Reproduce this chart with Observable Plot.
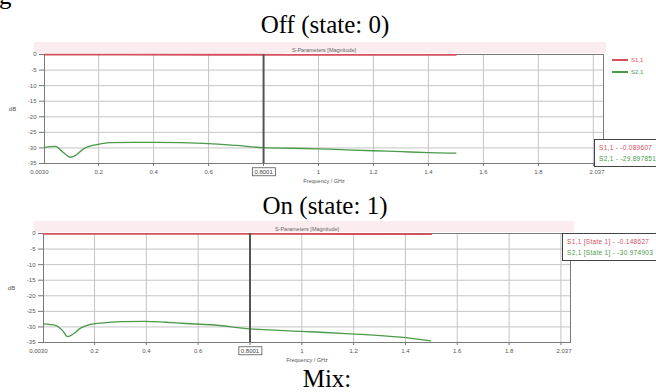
<!DOCTYPE html>
<html>
<head>
<meta charset="utf-8">
<script src="https://cdn.jsdelivr.net/npm/d3@7"></script>
<script src="https://cdn.jsdelivr.net/npm/@observablehq/plot@0.6"></script>
<style>
  html, body { margin: 0; padding: 0; background: #fff; }
  body { width: 656px; height: 392px; overflow: hidden; position: relative; font-family: "Liberation Serif", "Times New Roman", serif; }
  .cap { position: absolute; font-size: 25px; line-height: 25px; color: #000; white-space: nowrap; }
  .band { position: absolute; background: #fbecef; }
  .legend { position: absolute; font: 6px "Liberation Sans", Arial, sans-serif; }
  .legend div { height: 12px; display: flex; align-items: center; }
  .legend span.l { display: inline-block; width: 16px; height: 1.5px; margin-right: 3px; }
  .readout { position: absolute; background: #fff; border: 1px solid #444; font: 6.5px "Liberation Sans", Arial, sans-serif; padding: 2px 4px; white-space: nowrap; letter-spacing: 0.3px; }
  .readout div { height: 11px; line-height: 11px; }
  .plotwrap { position: absolute; left: 0; }
</style>
</head>
<body>
<script>
// ---------- data ----------
const captions = ["Off (state: 0)", "On (state: 1)", "Mix:"];
const plotTitle = "S-Parameters [Magnitude]";
const xAxisLabel = "Frequency / GHz";
const yAxisLabel = "dB";
const seriesNames = ["S1,1", "S2,1"];
const seriesColors = ["#d4505c", "#4a9a48"];

const xDomain = [0.003, 2.037];
const yDomain = [-35, 0];
const yTicks = [0, -5, -10, -15, -20, -25, -30, -35];
const xGridTicks = [0.2, 0.4, 0.6, 0.8, 1.0, 1.2, 1.4, 1.6, 1.8, 2.0];
const xLabelTicks = [0.2, 0.4, 0.6, 1.0, 1.2, 1.4, 1.6, 1.8];
const xStartLabel = "0.0030";
const xEndLabel = "2.037";
const markerFreq = 0.8001;
const markerLabel = "0.8001";

// Off state (state 0)
const offS11Freq = [0.003, 0.3, 0.6, 0.9, 1.2, 1.5];
const offS11dB   = [-0.06, -0.07, -0.08, -0.09, -0.10, -0.11];
const offS21Freq = [0.003, 0.043, 0.068, 0.098, 0.116, 0.145, 0.178, 0.207, 0.243, 0.33, 0.4, 0.5, 0.6, 0.7, 0.8, 0.9, 1.0, 1.1, 1.2, 1.3, 1.4, 1.5];
const offS21dB   = [-29.8, -29.5, -31.2, -33.0, -32.4, -30.3, -29.2, -28.7, -28.3, -28.2, -28.2, -28.3, -28.6, -29.2, -29.9, -30.1, -30.3, -30.6, -30.9, -31.2, -31.5, -31.7];
const offReadout = ["S1,1  -  -0.089607", "S2,1  -  -29.897851"];

// On state (state 1)
const onS11Freq = [0.003, 0.3, 0.6, 0.9, 1.2, 1.5];
const onS11dB   = [-0.12, -0.13, -0.14, -0.15, -0.16, -0.17];
const onS21Freq = [0.003, 0.049, 0.076, 0.096, 0.119, 0.146, 0.184, 0.223, 0.30, 0.397, 0.474, 0.551, 0.648, 0.8, 0.995, 1.188, 1.381, 1.497];
const onS21dB   = [-29.0, -29.5, -31.1, -33.1, -32.2, -30.4, -29.2, -28.8, -28.3, -28.2, -28.5, -28.9, -29.3, -30.6, -31.4, -32.2, -33.3, -34.5];
const onReadout = ["S1,1 [State 1]  -  -0.148627", "S2,1 [State 1]  -  -30.974903"];

// ---------- drawing ----------
function toRows(fs, vs, name) { return fs.map((f, i) => ({f, v: vs[i], name})); }

function drawPlot(opts) {
  const s11 = toRows(opts.s11f, opts.s11v, seriesNames[0]);
  const s21 = toRows(opts.s21f, opts.s21v, seriesNames[1]);
  const fmt = d => !xLabelTicks.includes(d) ? "" : (d === 1 ? "1" : d.toFixed(1));
  const svg = Plot.plot({
    width: 656,
    height: opts.height,
    marginLeft: opts.ml, marginRight: opts.mr, marginTop: opts.mt, marginBottom: opts.mb,
    style: {background: "transparent", overflow: "visible", fontFamily: "Liberation Sans, Arial, sans-serif"},
    x: {domain: xDomain},
    y: {domain: yDomain},
    marks: [
      Plot.gridY(yTicks, {stroke: "#c4c4c4", strokeOpacity: 1}),
      Plot.gridX(xGridTicks, {stroke: "#c4c4c4", strokeOpacity: 1}),
      Plot.frame({stroke: "#7a7a7a"}),
      Plot.axisY(yTicks, {tickSize: 5, tickPadding: 3, fontSize: 6, fill: "#555", stroke: "#777", tickFormat: d => String(d), label: null}),
      Plot.axisX(xGridTicks, {tickSize: 3, tickPadding: 3, fontSize: 6, fill: "#555", stroke: "#777", tickFormat: fmt, label: null}),
      Plot.text([xStartLabel], {x: xDomain[0], frameAnchor: "bottom", lineAnchor: "top", dy: 6, dx: 4, textAnchor: "end", fontSize: 6, fill: "#555"}),
      Plot.text([xEndLabel], {x: xDomain[1], frameAnchor: "bottom", lineAnchor: "top", dy: 6, dx: 1, textAnchor: "end", fontSize: 6, fill: "#555"}),
      Plot.text([xAxisLabel], {frameAnchor: "bottom", lineAnchor: "top", dy: 16, fontSize: 5.5, fill: "#555"}),
      Plot.text([yAxisLabel], {frameAnchor: "left", dx: -32, textAnchor: "middle", fontSize: 6, fill: "#555"}),
      Plot.text([plotTitle], {frameAnchor: "top", dy: -6, fontSize: 5.5, fill: "#666"}),
      Plot.line(s21, {x: "f", y: "v", stroke: seriesColors[1], strokeWidth: 1.3, curve: "monotone-x"}),
      Plot.line(s11, {x: "f", y: "v", stroke: seriesColors[0], strokeWidth: 1.8}),
      Plot.ruleX([markerFreq], {stroke: "#555", strokeWidth: 2}),
      Plot.text([markerLabel], {x: markerFreq, frameAnchor: "bottom", lineAnchor: "top", dy: 6, fontSize: 6, fill: "#444"})
    ]
  });
  const wrap = document.createElement("div");
  wrap.className = "plotwrap";
  wrap.style.top = opts.top + "px";
  wrap.appendChild(svg);
  document.body.appendChild(wrap);
  // box around the marker label
  d3.select(svg).selectAll("text").filter(function() { return this.textContent === markerLabel; }).each(function() {
    const b = this.getBBox();
    const r = d3.select(this.parentNode).insert("rect", () => this)
      .attr("x", b.x - 2).attr("y", b.y - 1).attr("width", b.width + 4).attr("height", b.height + 2)
      .attr("fill", "#fff").attr("stroke", "#555").attr("stroke-width", 0.8);
    const tr = this.getAttribute("transform");
    if (tr) r.attr("transform", tr);
  });
  return svg;
}

function addDiv(cls, html, style) {
  const d = document.createElement("div");
  d.className = cls;
  d.innerHTML = html;
  Object.assign(d.style, style);
  document.body.appendChild(d);
  return d;
}

// partial cut-off text at top-left
addDiv("cap", "g", {left: "-1px", top: "-17px"});

// captions
addDiv("cap", captions[0], {left: "0px", width: "650px", textAlign: "center", top: "12px"});
addDiv("cap", captions[1], {left: "0px", width: "650px", textAlign: "center", top: "193px"});
addDiv("cap", captions[2], {left: "0px", width: "654px", textAlign: "center", top: "366px"});

// title bands
addDiv("band", "", {left: "34px", top: "42px", width: "572px", height: "11px"});
addDiv("band", "", {left: "34px", top: "221px", width: "540px", height: "11px"});

drawPlot({top: 40, height: 150, ml: 44, mr: 53, mt: 14, mb: 27,
  s11f: offS11Freq, s11v: offS11dB, s21f: offS21Freq, s21v: offS21dB});
drawPlot({top: 220, height: 150, ml: 43, mr: 86, mt: 13, mb: 28,
  s11f: onS11Freq, s11v: onS11dB, s21f: onS21Freq, s21v: onS21dB});

// legend for first plot
addDiv("legend",
  seriesNames.map((n, i) => `<div><span class="l" style="background:${seriesColors[i]}"></span><span style="color:${seriesColors[i]}">${n}</span></div>`).join(""),
  {left: "612px", top: "54px"});

// marker readouts
addDiv("readout", offReadout.map((t, i) => `<div style="color:${seriesColors[i]}">${t}</div>`).join(""),
  {left: "594px", top: "139px", width: "90px"});
addDiv("readout", onReadout.map((t, i) => `<div style="color:${seriesColors[i]}">${t}</div>`).join(""),
  {left: "562px", top: "233px", width: "110px"});
</script>
</body>
</html>
